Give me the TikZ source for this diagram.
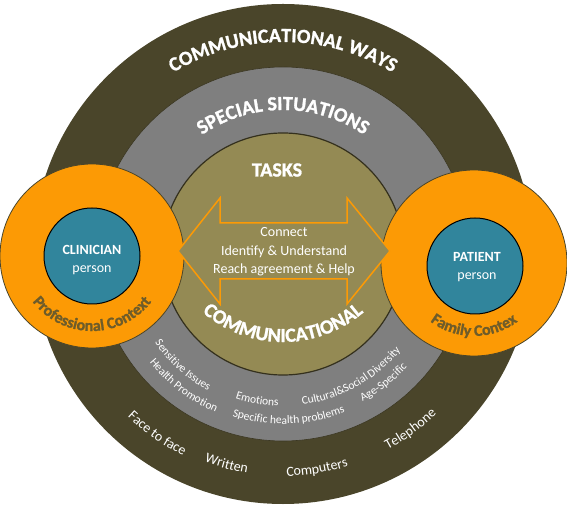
\documentclass[tikz,border=0pt]{standalone}
\usepackage{fontspec}
\setmainfont{Carlito}
\newfontfamily\heavyfam{Carlito}[BoldFeatures={FakeBold=1.3}]
\usetikzlibrary{decorations.text}

\definecolor{waysbrown}{HTML}{4A452A}
\definecolor{situgray}{HTML}{7F7F7F}
\definecolor{taskolive}{HTML}{948A54}
\definecolor{ctxorange}{HTML}{FC9A05}
\definecolor{personteal}{HTML}{31859C}
\definecolor{ctxbrown}{HTML}{6E5C2A}

\newcommand\fbig{\heavyfam\bfseries\fontsize{20}{24}\selectfont}
\newcommand\fmid{\fontsize{14}{18.5}\selectfont}
\newcommand\fsmall{\fontsize{11.5}{14}\selectfont}
\newcommand\fctx{\heavyfam\bfseries\fontsize{16}{19}\selectfont}

\tikzset{
  arctext/.style 2 args={/utils/exec={#1},decorate,
    decoration={text along path,text align=center,text color=white,text={#2}}},
  arcdark/.style 2 args={/utils/exec={#1},decorate,
    decoration={text along path,text align=center,text color=ctxbrown,text={#2}}},
  personnode/.style={circle,minimum size=96pt,inner sep=0pt,fill=personteal,draw=black,line width=1pt},
  ctxring/.style={fill=ctxorange,draw=waysbrown,line width=0.8pt}
}

\begin{document}
\begin{tikzpicture}[x=1pt,y=1pt,line join=round]
\useasboundingbox (0,0) rectangle (567,506);
\coordinate (M) at (283,252);
\coordinate (B) at (283,288);
\coordinate (L) at (92,250);
\coordinate (R) at (474,243);

% rings
\fill[waysbrown] (M) circle (250);
\filldraw[fill=situgray,draw=waysbrown!80!black,line width=0.6pt] (M) circle (187);
\filldraw[fill=taskolive,draw=waysbrown!70!black,line width=1.2pt] (M) circle (121);

% contexts
\filldraw[ctxring] (L) circle (92);
\filldraw[ctxring] (R) circle (93);
\node[personnode] (clin) at (L) {};
\node[personnode] (pat) at (475,240) {};
\node[white,align=center,font=\fmid] (clintxt) at (92,246) {\textbf{CLINICIAN}\\person};
\node[white,align=center,font=\fmid] (pattxt) at (477,239) {\textbf{PATIENT}\\person};

% tasks arrow
\filldraw[fill=taskolive,draw=ctxorange,line width=1.5pt,line join=miter]
  (178,255)--(220,308)--(220,283)--(347,283)--(347,308)--(390,255)
  --(347,202)--(347,227)--(220,227)--(220,202)--cycle;
\node[white,align=center,font=\fmid] (tasks) at (284,254)
  {Connect\\Identify \& Understand\\Reach agreement~\& Help};
\node[white,font=\fbig] (tasktitle) at (277,336) {TASKS};

% titles
\path[arctext={\fbig}{COMMUNICATIONAL WAYS}] ([shift={(M)}]165:212) arc[start angle=165,end angle=15,radius=212];
\path[arctext={\fbig}{SPECIAL SITUATIONS}] ([shift={(M)}]170:144) arc[start angle=170,end angle=10,radius=144];
\path[arctext={\fbig}{COMMUNICATIONAL}] ([shift={(B)}]200:124) arc[start angle=200,end angle=340,radius=124];
\path[arcdark={\fctx}{Professional Context}] ([shift={(L)}]190:75) arc[start angle=190,end angle=350,radius=75];
\path[arcdark={\fctx}{Family Contex}] ([shift={(R)}]195:73) arc[start angle=195,end angle=345,radius=73];

% special situations
\path[arctext={\fsmall}{Sensitive Issues}] ([shift={(M)}]193:156) arc[start angle=193,end angle=263,radius=156];
\path[arctext={\fsmall}{Health Promotion}] ([shift={(M)}]198:172) arc[start angle=198,end angle=268,radius=172];
\path[arctext={\fsmall}{Emotions}] ([shift={(M)}]235:152) arc[start angle=235,end angle=285,radius=152];
\path[arctext={\fsmall}{Cultural{\&}Social Diversity}] ([shift={(M)}]259:152) arc[start angle=259,end angle=339,radius=152];
\path[arctext={\fsmall}{Age-Specific}] ([shift={(M)}]278:168) arc[start angle=278,end angle=338,radius=168];
\path[arctext={\fsmall}{Specific health problems}] ([shift={(M)}]232:170) arc[start angle=232,end angle=312,radius=170];

% communicational ways
\path[arctext={\fmid}{Face to face}] ([shift={(M)}]205:225) arc[start angle=205,end angle=265,radius=225];
\path[arctext={\fmid}{Written}] ([shift={(M)}]235:222) arc[start angle=235,end angle=275,radius=222];
\path[arctext={\fmid}{Computers}] ([shift={(M)}]254:222) arc[start angle=254,end angle=304,radius=222];
\path[arctext={\fmid}{Telephone}] ([shift={(M)}]281:222) arc[start angle=281,end angle=331,radius=222];
\end{tikzpicture}
\end{document}
